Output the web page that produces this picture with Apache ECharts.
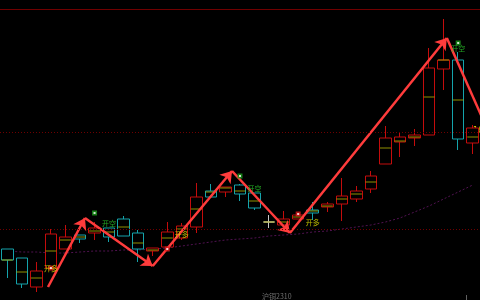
<!DOCTYPE html>
<html>
<head>
<meta charset="utf-8">
<script src="https://cdn.jsdelivr.net/npm/echarts@6/dist/echarts.min.js"></script>
<style>
html,body{margin:0;padding:0;background:#000;}
#c{width:480px;height:300px;}
</style>
</head>
<body>
<div id="c"></div>
<script>
const categories = ['1','2','3','4','5','6','7','8','9','10','11','12','13','14','15','16','17','18','19','20','21','22','23','24','25','26','27','28','29','30','31','32','33'];
const opens  = [1551,1542,1513,1532,1551,1565,1567,1572,1581,1567,1549,1553,1562,1573,1609,1608,1615,1607,1578,1575,1581,1590,1593,1596,1601,1611,1636,1658,1662,1665,1731,1740,1657];
const closes = [1540,1516,1529,1566,1563,1561,1572,1563,1564,1551,1552,1568,1574,1603,1603,1613,1606,1592,1578,1581,1585,1587,1596,1604,1609,1624,1662,1663,1665,1732,1740,1661,1672];
const lows   = [1522,1512,1508,1530,1551,1557,1560,1558,1564,1538,1544,1550,1560,1567,1603,1603,1599,1590,1572,1575,1581,1580,1588,1579,1598,1607,1636,1643,1654,1665,1710,1650,1646];
const highs  = [1551,1542,1538,1571,1575,1565,1578,1572,1584,1570,1552,1578,1577,1617,1616,1613,1616,1607,1585,1589,1587,1598,1598,1622,1614,1629,1674,1668,1671,1752,1781,1748,1675];
const avgLine = [1540,1528,1522,1549,1560,1563,1569,1568,1573,1557,1550,1562,1571,1591,1608,1612,1609,1599,1578,1578,1583,1589,1594,1601,1606,1618,1652,1659,1663,1703,1740,1700,1663];
const ma = [1549,1548,1548,1547,1547,1548,1549,1549,1550,1550,1551,1552,1554,1556,1558,1560,1561,1562,1564,1565,1566,1568,1569,1571,1573,1575,1578,1582,1588,1594,1601,1608,1615];
// zigzag arrow turning points: [bar position, price]
const zigzag = [[2.8,1513],[5.34,1582],[10.0,1534],[15.45,1629],[19.43,1567],[30.22,1762],[33.3,1661]];
const buyMarks = [[3,1532],[11,1551],[20,1586]];
const sellMarks = [[6,1587],[16,1624],[31,1757]];
const longLabels = [[3,1532],[12,1566],[21,1578]];
const shortLabels = [[7,1577],[17,1612],[31,1752]];
const levelLines = [1668,1571];
const topLine = 1791;
const lastPriceText = '1668';
const contractName = '沪铜2310';

const ohlc = categories.map((c,i)=>[opens[i],closes[i],lows[i],highs[i]]);
const segs = [];
for (let i=0;i<zigzag.length-1;i++) segs.push({coords:[zigzag[i],zigzag[i+1]]});
const font = 'Noto Sans CJK SC';

const chart = echarts.init(document.getElementById('c'));
chart.setOption({
  backgroundColor:'#000',
  animation:false,
  grid:{left:0,right:0,top:0,bottom:0},
  xAxis:[
    {type:'category',data:categories,boundaryGap:true,show:false},
    {type:'value',min:-0.5,max:32.5,show:false}
  ],
  yAxis:{type:'value',min:1500,max:1800,show:false,splitLine:{show:false}},
  series:[
    {type:'line',data:ma,symbol:'none',silent:true,z:1,
     lineStyle:{color:'#501250',width:1,type:[2,2]}},
    {type:'candlestick',data:ohlc,barWidth:12,z:2,
     itemStyle:{color:'#000',color0:'#000',borderColor:'#c40c0c',borderColor0:'#14a4ac',borderColorDoji:'#c8c8c8',borderWidth:1},
     markLine:{silent:true,symbol:'none',label:{show:false},animation:false,
       data:[
         {yAxis:levelLines[0],lineStyle:{color:'#6e0000',type:[1,2],width:1}},
         {yAxis:levelLines[1],lineStyle:{color:'#6e0000',type:[1,2],width:1}},
         {yAxis:topLine,lineStyle:{color:'#700000',type:'solid',width:1}}
       ]}},
    {type:'scatter',data:avgLine.map((v,i)=>[i,v]),symbol:'rect',symbolSize:[11,1],z:3,silent:true,
     itemStyle:{color:'#b4b400'}},
    {type:'lines',coordinateSystem:'cartesian2d',xAxisIndex:1,yAxisIndex:0,data:segs,z:4,silent:true,
     symbol:['none','arrow'],symbolSize:11,
     lineStyle:{color:'#ff3c3c',width:2.5,opacity:1}},
    {type:'scatter',data:buyMarks,symbol:'rect',symbolSize:5,z:5,silent:true,itemStyle:{color:'#e01c1c'}},
    {type:'scatter',data:sellMarks,symbol:'rect',symbolSize:5,z:5,silent:true,itemStyle:{color:'#1c9c1c'}},
    {type:'scatter',data:buyMarks.concat(sellMarks),symbol:'rect',symbolSize:2,z:6,silent:true,itemStyle:{color:'#ffffff'}},
    {type:'scatter',data:longLabels,symbolSize:0,z:5,silent:true,
     label:{show:true,position:'inside',formatter:'开多',color:'#e6e600',fontSize:7,fontFamily:font}},
    {type:'scatter',data:shortLabels,symbolSize:0,z:5,silent:true,
     label:{show:true,position:'inside',formatter:'开空',color:'#2cd02c',fontSize:7,fontFamily:font}}
  ],
  graphic:[
    {type:'text',left:473,top:127,style:{text:lastPriceText,fill:'#c8c800',font:'8px "DejaVu Sans"'}},
    {type:'text',left:262,top:293,style:{text:contractName,fill:'#707070',font:'7px "Noto Sans CJK SC"'}},
    {type:'line',shape:{x1:466.5,y1:295,x2:466.5,y2:300},style:{stroke:'#606060',lineWidth:1}}
  ]
});
</script>
</body>
</html>
